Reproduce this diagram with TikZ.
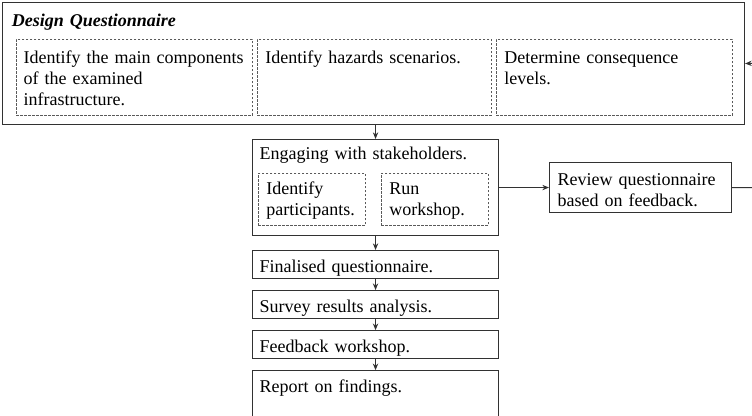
\documentclass[tikz,border=0pt]{standalone}
\usepackage{fontspec}
\setmainfont{Liberation Serif}
\usepackage{tikz}
\usetikzlibrary{arrows.meta, positioning}

\definecolor{linec}{RGB}{50,50,50}
\definecolor{dashc}{RGB}{90,90,90}
\hyphenpenalty=10000
\exhyphenpenalty=10000

\begin{document}
\begin{tikzpicture}[
  x=0.75pt, y=-0.75pt,
  every node/.style={font=\fontsize{13.5}{15.75}\selectfont},
  frame/.style={draw=linec, line width=0.8pt, anchor=north west, align=left,
    inner xsep=5.25pt, inner ysep=0pt, text width=174pt, text height=16.5pt, text depth=4.5pt},
  task/.style={draw=dashc, line width=0.6pt, dash pattern=on 1.8pt off 1.2pt, anchor=north west,
    align=left, inner xsep=6pt, inner ysep=0pt},
  arr/.style={-{Stealth[length=5pt, width=4pt]}, linec, line width=0.7pt}
]
  \useasboundingbox (0,0) rectangle (752,415);

  % questionnaire design stage
  \node[frame, inner xsep=7pt, text width=542.5pt, text height=18pt, text depth=73.5pt] (design) at (2,2)
    {\textbf{\textit{Design Questionnaire}}};
  \node[task, inner xsep=5.5pt, text width=166pt, text height=18pt, text depth=39pt] (comp) at (16,39)
    {Identify the main components\\of the examined\\infrastructure.};
  \node[task, text width=163.5pt, text height=18pt, text depth=39pt] (haz) at (257,39)
    {Identify hazards scenarios.};
  \node[task, text width=165pt, text height=18pt, text depth=39pt] (cons) at (496,39)
    {Determine consequence\\levels.};

  % stakeholder stage
  \node[frame, text height=15pt, text depth=57pt] (engage) at (252,139) {Engaging with stakeholders.};
  \node[task, text width=68.25pt, text height=15.75pt, text depth=23.25pt] (part) at (258,173)
    {Identify\\participants.};
  \node[task, text width=68.25pt, text height=15.75pt, text depth=23.25pt] (run) at (381,173)
    {Run\\workshop.};
  \node[frame, inner xsep=6pt, text width=124.5pt, text height=17.25pt, text depth=20.25pt] (review) at (549,162)
    {Review questionnaire\\based on feedback.};

  % main sequence
  \node[frame] (final) at (252,250) {Finalised questionnaire.};
  \node[frame, below=8.25pt of final] (survey) {Survey results analysis.};
  \node[frame, below=8.25pt of survey] (fback) {Feedback workshop.};
  \node[frame, below=8.25pt of fback, text depth=30pt] (report) {Report on findings.};

  \coordinate (back) at (762,63);

  \draw[arr] (design.south -| engage.north) -- (engage.north);
  \draw[arr] (engage) -- (review);
  \draw[arr] (review.east) -| (back) -- (design.east);
  \draw[arr] (engage) -- (final);
  \draw[arr] (final) -- (survey);
  \draw[arr] (survey) -- (fback);
  \draw[arr] (fback) -- (report);
\end{tikzpicture}
\end{document}
